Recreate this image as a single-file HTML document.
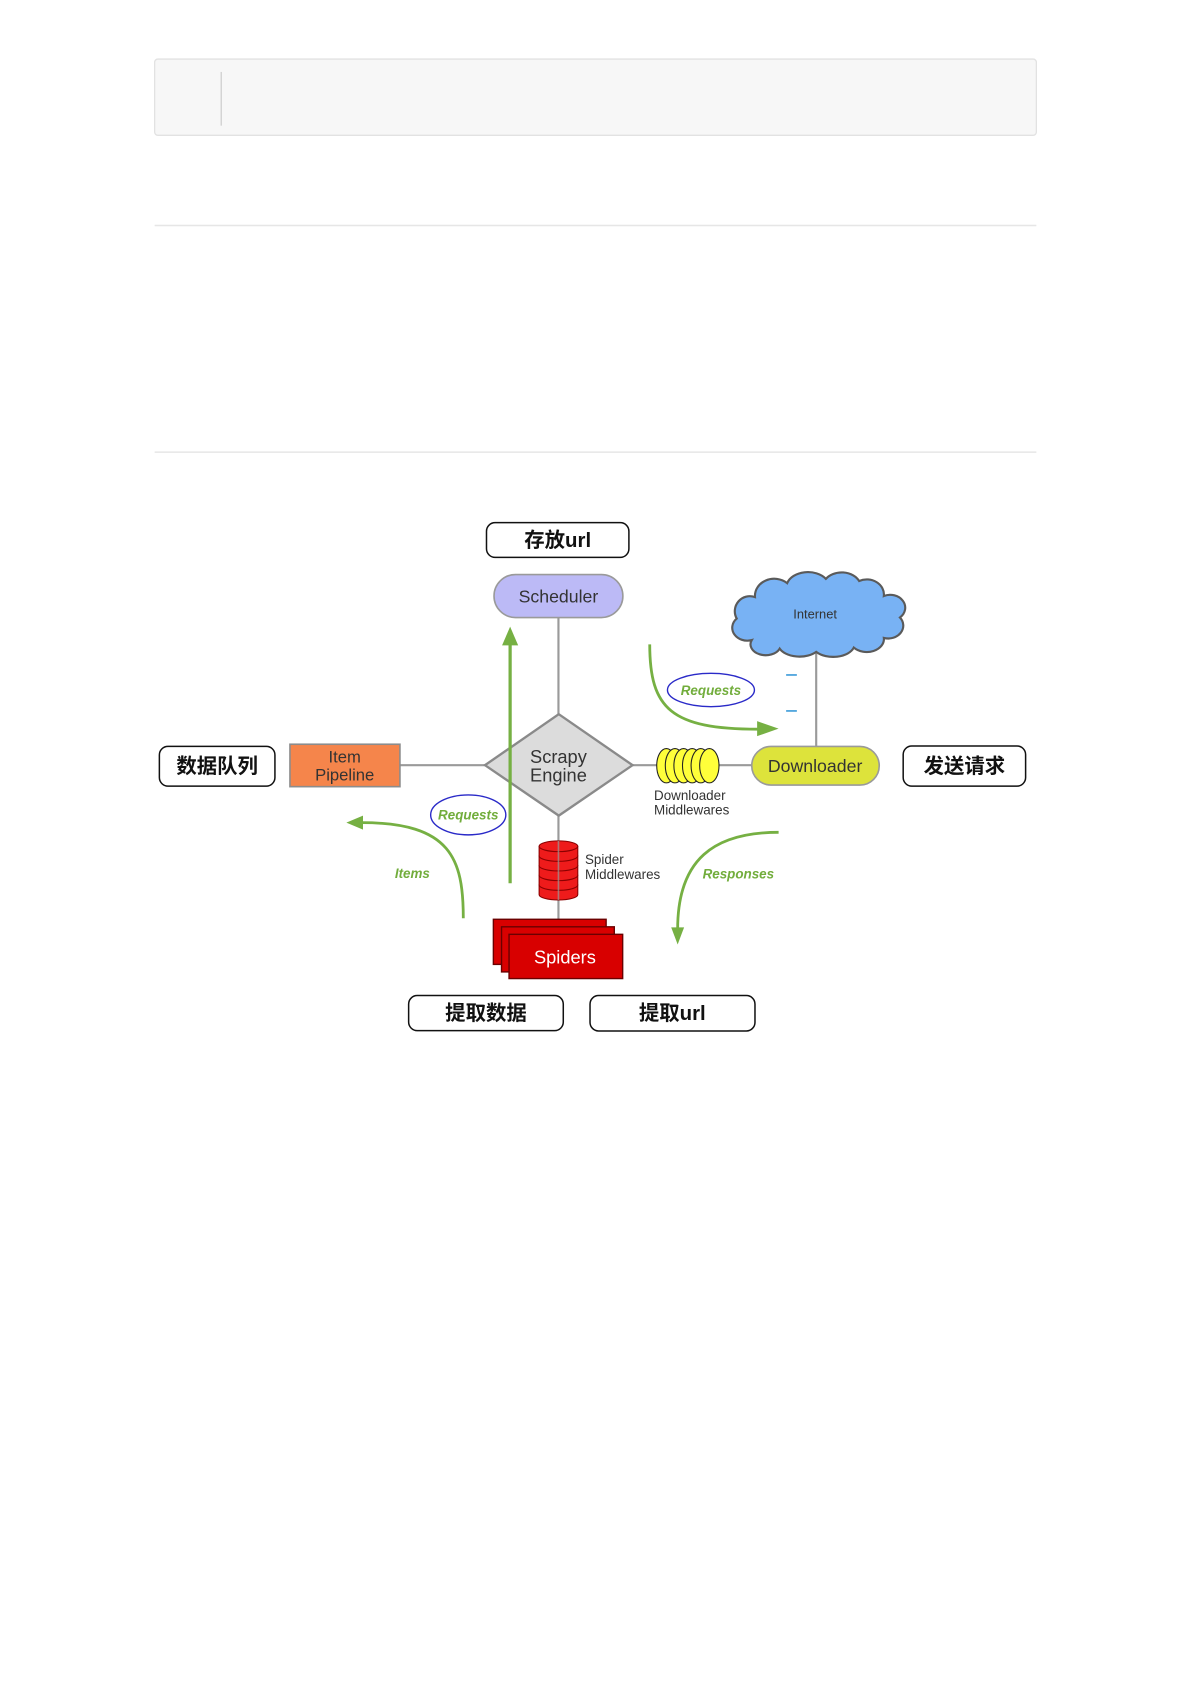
<!DOCTYPE html>
<html><head><meta charset="utf-8">
<style>
html,body{margin:0;padding:0;background:#fff;}
body{width:1191px;height:1685px;overflow:hidden;}
svg{display:block;}
.cn{font-family:"Liberation Sans","Noto Sans CJK SC",sans-serif;font-weight:bold;font-size:19px;fill:#111;text-anchor:middle;}
.lb{font-family:"Liberation Sans",sans-serif;fill:#333;text-anchor:middle;}
.gr{font-family:"Liberation Sans",sans-serif;font-style:italic;font-weight:bold;fill:#72ad3c;text-anchor:middle;font-size:12.5px;}
</style></head>
<body>
<svg width="1191" height="1685" viewBox="0 0 1109 1569" xmlns="http://www.w3.org/2000/svg">
  <!-- top code box -->
  <rect x="144" y="55" width="821" height="71" rx="3" fill="#f7f7f7" stroke="#e2e2e2" stroke-width="1.2"/>
  <line x1="206" y1="67" x2="206" y2="117" stroke="#cfcfcf" stroke-width="1.2"/>
  <line x1="144" y1="210" x2="965" y2="210" stroke="#e6e6e6" stroke-width="1.4"/>
  <line x1="144" y1="421" x2="965" y2="421" stroke="#e6e6e6" stroke-width="1.4"/>

  <!-- gray connectors -->
  <g stroke="#9a9a9a" stroke-width="2" fill="none">
    <line x1="520" y1="575" x2="520" y2="665"/>
    <line x1="372" y1="712.5" x2="452" y2="712.5"/>
    <line x1="589" y1="712.5" x2="700" y2="712.5"/>
    <line x1="760" y1="606" x2="760" y2="695"/>
    <line x1="520" y1="759" x2="520" y2="856"/>
  </g>

  <!-- 存放url -->
  <rect x="453" y="486.7" width="132.6" height="32.3" rx="8" fill="#fff" stroke="#111" stroke-width="1.4"/>
  <text class="cn" x="519.3" y="509.5">存放url</text>

  <!-- Scheduler -->
  <rect x="460" y="535" width="120" height="40" rx="20" fill="#bcbaf6" stroke="#9a9a9a" stroke-width="1.5"/>
  <text class="lb" x="520" y="561" font-size="16.5">Scheduler</text>

  <!-- Internet cloud -->
  <path d="M700,596 A14,12 0 0 1 686,576 A14,14 0 0 1 703,556 A18,16 0 0 1 733,543 A20,14 0 0 1 769,539 A18,14 0 0 1 800,541 A16,14 0 0 1 823,555 A14,12 0 0 1 838,575 A14,12 0 0 1 823,594 A16,12 0 0 1 795,603 A20,12 0 0 1 760,607 A20,12 0 0 1 726,604 A14,10 0 0 1 700,596 Z" fill="#78b2f4" stroke="#5a5a5a" stroke-width="2"/>
  <text class="lb" x="759" y="576" font-size="12">Internet</text>

  <!-- blue dashes -->
  <line x1="732" y1="628.5" x2="742" y2="628.5" stroke="#3a9ad9" stroke-width="1.5"/>
  <line x1="732" y1="662" x2="742" y2="662" stroke="#3a9ad9" stroke-width="1.5"/>

  <!-- Requests top -->
  <path d="M605,600 C605,660 625,679 706,679" fill="none" stroke="#76b043" stroke-width="2.6"/>
  <polygon points="725,678.5 705,671.5 705,685.5" fill="#76b043"/>
  <ellipse cx="662" cy="642.5" rx="40.5" ry="15.5" fill="#fff" stroke="#2a2ac8" stroke-width="1.3"/>
  <text class="gr" x="662" y="647">Requests</text>

  <!-- Item Pipeline -->
  <rect x="270" y="693" width="102.4" height="39.5" fill="#f5854b" stroke="#8c8c8c" stroke-width="1.5"/>
  <text class="lb" x="321" y="710" font-size="15.5">Item</text>
  <text class="lb" x="321" y="727" font-size="15.5">Pipeline</text>

  <!-- 数据队列 -->
  <rect x="148.4" y="695" width="107.6" height="37" rx="8" fill="#fff" stroke="#111" stroke-width="1.4"/>
  <text class="cn" x="202.2" y="720">数据队列</text>

  <!-- Engine diamond -->
  <polygon points="520.3,665 589,712.5 520.3,759.5 451.6,712.5" fill="#dcdcdc" stroke="#8a8a8a" stroke-width="2.2"/>
  <text class="lb" x="520" y="710.7" font-size="17">Scrapy</text>
  <text class="lb" x="520" y="727.8" font-size="17">Engine</text>

  <!-- Downloader middlewares -->
  <g fill="#ffff3a" stroke="#222" stroke-width="1">
    <ellipse cx="620.5" cy="713" rx="9" ry="16"/>
    <ellipse cx="628.5" cy="713" rx="9" ry="16"/>
    <ellipse cx="636.5" cy="713" rx="9" ry="16"/>
    <ellipse cx="644.5" cy="713" rx="9" ry="16"/>
    <ellipse cx="652.5" cy="713" rx="9" ry="16"/>
    <ellipse cx="660.5" cy="713" rx="9" ry="16"/>
  </g>
  <text class="lb" x="609" y="745" font-size="12.5" text-anchor="start" style="text-anchor:start">Downloader</text>
  <text class="lb" x="609" y="758.5" font-size="12.5" style="text-anchor:start">Middlewares</text>

  <!-- Downloader -->
  <rect x="700" y="695" width="118.7" height="36" rx="18" fill="#dde33b" stroke="#9a9a9a" stroke-width="1.5"/>
  <text class="lb" x="759" y="719" font-size="16.5">Downloader</text>

  <!-- 发送请求 -->
  <rect x="841" y="694.6" width="114" height="37.4" rx="8" fill="#fff" stroke="#111" stroke-width="1.4"/>
  <text class="cn" x="898" y="720">发送请求</text>

  <!-- Vertical green requests arrow -->
  <line x1="475" y1="822.5" x2="475" y2="598" stroke="#76b043" stroke-width="3"/>
  <polygon points="475,583.5 467.5,601 482.5,601" fill="#76b043"/>
  <ellipse cx="436" cy="758.8" rx="35" ry="18.6" fill="#fff" stroke="#2a2ac8" stroke-width="1.3"/>
  <text class="gr" x="436" y="763">Requests</text>

  <!-- Items arrow -->
  <path d="M431.4,855 C431.4,800 420,766 337,766" fill="none" stroke="#76b043" stroke-width="2.6"/>
  <polygon points="322.5,766 338,759.5 338,772.5" fill="#76b043"/>
  <text class="gr" x="384" y="817.5" font-size="13">Items</text>

  <!-- Spider middlewares -->
  <g fill="#ee1b1b" stroke="#8a0000" stroke-width="1">
    <path d="M502,824 L502,833 A18,5 0 0 0 538,833 L538,824 Z"/>
    <path d="M502,815 L502,824 A18,5 0 0 0 538,824 L538,815 Z"/>
    <path d="M502,806 L502,815 A18,5 0 0 0 538,815 L538,806 Z"/>
    <path d="M502,797 L502,806 A18,5 0 0 0 538,806 L538,797 Z"/>
    <path d="M502,788 L502,797 A18,5 0 0 0 538,797 L538,788 Z"/>
    <ellipse cx="520" cy="788" rx="18" ry="5"/>
  </g>
  <line x1="520" y1="783" x2="520" y2="838" stroke="#9a9a9a" stroke-width="1.5" opacity="0.7"/>
  <text class="lb" x="544.7" y="804.5" font-size="12.5" style="text-anchor:start">Spider</text>
  <text class="lb" x="544.7" y="818.7" font-size="12.5" style="text-anchor:start">Middlewares</text>

  <!-- Responses arrow -->
  <path d="M725,775 C665,775 631,800 631,865" fill="none" stroke="#76b043" stroke-width="2.6"/>
  <polygon points="631,879.5 625,863.5 637,863.5" fill="#76b043"/>
  <text class="gr" x="687.5" y="818" font-size="13">Responses</text>

  <!-- Spiders -->
  <g fill="#d80000" stroke="#6a0000" stroke-width="1.3">
    <rect x="459.4" y="856" width="105" height="42"/>
    <rect x="467" y="863" width="105" height="42"/>
    <rect x="474" y="870" width="105.8" height="41.2"/>
  </g>
  <text x="526" y="897" font-family="Liberation Sans, sans-serif" font-size="17" fill="#fff" text-anchor="middle">Spiders</text>

  <!-- bottom labels -->
  <rect x="380.5" y="927" width="144" height="32.7" rx="8" fill="#fff" stroke="#111" stroke-width="1.4"/>
  <text class="cn" x="452.5" y="950">提取数据</text>
  <rect x="549.4" y="927" width="153.6" height="33" rx="8" fill="#fff" stroke="#111" stroke-width="1.4"/>
  <text class="cn" x="626" y="950">提取url</text>
</svg>
</body></html>
